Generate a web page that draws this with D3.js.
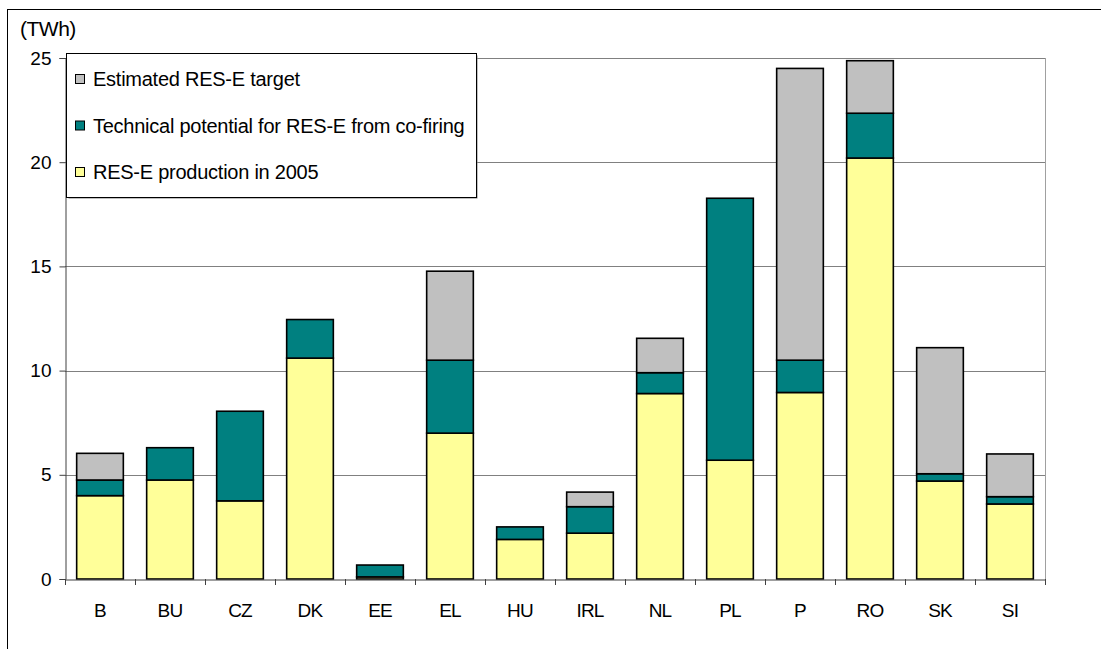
<!DOCTYPE html>
<html><head><meta charset="utf-8">
<script src="https://cdn.jsdelivr.net/npm/d3@7"></script>
<style>body{margin:0;background:#fff;} svg{display:block;font-family:"Liberation Sans",Arial,sans-serif;}</style>
</head><body>
<svg id="c" width="1101" height="649"></svg>
<script>
const categories = ["B","BU","CZ","DK","EE","EL","HU","IRL","NL","PL","P","RO","SK","SI"];
const production2005 = [4.0,4.75,3.75,10.6,0.1,7.0,1.9,2.2,8.9,5.7,8.95,20.2,4.7,3.6];
const cofiringPotential = [0.75,1.55,4.3,1.85,0.57,3.5,0.6,1.27,1.0,12.57,1.55,2.15,0.35,0.35];
const estimatedTarget = [1.28,0,0,0,0,4.27,0,0.7,1.65,0,14.0,2.52,6.05,2.05];
const yTicks = [0,5,10,15,20,25];
const seriesNames = ["RES-E production in 2005","Technical potential for RES-E from co-firing","Estimated RES-E target"];
const seriesColors = ["#ffff99","#008080","#c0c0c0"];

const svg = d3.select("#c");
const L = 65, R = 1045, T = 58, B = 579;

const x = d3.scaleBand().domain(categories).range([L, R]).paddingInner(1/3).paddingOuter(1/6);
const y = d3.scaleLinear().domain([0, 25]).range([B, T]);

// outer frame
svg.append("rect").attr("x",7.5).attr("y",9.5).attr("width",1100).attr("height",660)
  .attr("fill","none").attr("stroke","#000").attr("stroke-width",1);

// gridlines
svg.append("g").selectAll("line").data(yTicks.filter(d=>d>0)).join("line")
  .attr("x1",L).attr("x2",R).attr("y1",d=>Math.round(y(d))+0.5).attr("y2",d=>Math.round(y(d))+0.5)
  .attr("stroke","#808080").attr("stroke-width",1);
// right border
svg.append("line").attr("x1",R+0.5).attr("x2",R+0.5).attr("y1",T).attr("y2",B).attr("stroke","#a0a0a0");

// stacked data
const rows = categories.map((c,i)=>({cat:c, s0:production2005[i], s1:cofiringPotential[i], s2:estimatedTarget[i]}));
const stack = d3.stack().keys(["s0","s1","s2"]);
const layers = stack(rows);

svg.append("g").selectAll("g").data(layers).join("g")
  .attr("fill",(d,i)=>seriesColors[i])
  .selectAll("rect").data(d=>d.filter(p=>p[1]-p[0]>0)).join("rect")
  .attr("x",d=>x(d.data.cat)).attr("width",x.bandwidth())
  .attr("y",d=>y(d[1])).attr("height",d=>y(d[0])-y(d[1]))
  .attr("stroke","#000").attr("stroke-width",1.6);

// y axis
const yAxis = d3.axisLeft(y).tickValues(yTicks).tickSize(6).tickPadding(8).tickFormat(d3.format("d"));
const gy = svg.append("g").attr("transform",`translate(${L+0.5},0)`).call(yAxis);
gy.select(".domain").attr("stroke","#404040");
gy.selectAll(".tick line").attr("stroke","#404040");
gy.selectAll("text").attr("font-size",19).attr("fill","#000").attr("font-family","Liberation Sans, Arial, sans-serif");

// x axis
const xAxis = d3.axisBottom(x).tickSize(0).tickPadding(24);
const gx = svg.append("g").attr("transform",`translate(0,${B+0.5})`).call(xAxis);
gx.select(".domain").attr("stroke","#404040");
gx.selectAll("text").attr("font-size",19).attr("fill","#000").attr("letter-spacing","-0.8").attr("font-family","Liberation Sans, Arial, sans-serif");
// category separators ticks
const seps = d3.range(categories.length+1).map(i=>L + i*x.step());
svg.append("g").selectAll("line").data(seps).join("line")
  .attr("x1",d=>Math.round(d)+0.5).attr("x2",d=>Math.round(d)+0.5).attr("y1",B).attr("y2",B+6)
  .attr("stroke","#404040");

// unit label
svg.append("text").attr("x",20).attr("y",36).attr("font-size",21).attr("letter-spacing","-0.5").text("(TWh)");

// legend
const lg = svg.append("g");
lg.append("rect").attr("x",68.5).attr("y",55.5).attr("width",409).attr("height",143).attr("fill","#808080");
lg.append("rect").attr("x",66.5).attr("y",53.5).attr("width",410).attr("height",144)
  .attr("fill","#fff").attr("stroke","#000");
const legendOrder = [2,1,0];
legendOrder.forEach((si,k)=>{
  const cy = 79 + k*46.5;
  lg.append("rect").attr("x",75.5).attr("y",cy-4.5).attr("width",9).attr("height",9)
    .attr("fill",seriesColors[si]).attr("stroke","#000");
  lg.append("text").attr("x",93).attr("y",cy+7).attr("font-size",20)
    .attr("letter-spacing","-0.25").text(seriesNames[si]);
});
</script>
</body></html>
